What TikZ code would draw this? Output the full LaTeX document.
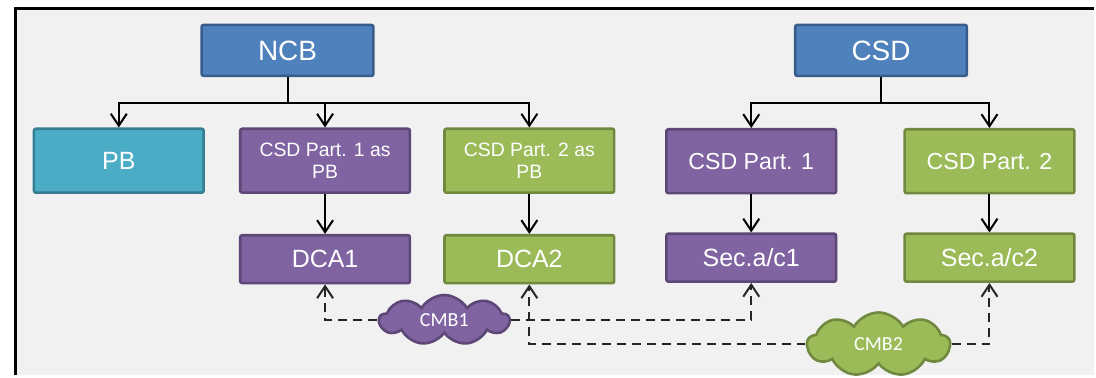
\documentclass[tikz,border=0pt]{standalone}
\usepackage{fontspec}
\setmainfont{Liberation Sans}
\newfontfamily\cloudfont{Carlito}
\usetikzlibrary{shapes.symbols,arrows.meta,calc,positioning}

\definecolor{hdBlue}{HTML}{4F81BD}
\definecolor{hdBlueLn}{HTML}{385D8A}
\definecolor{pbTeal}{HTML}{4BACC6}
\definecolor{pbTealLn}{HTML}{357D91}
\definecolor{partOne}{HTML}{8064A2}
\definecolor{partOneLn}{HTML}{5C4776}
\definecolor{partTwo}{HTML}{9BBB59}
\definecolor{partTwoLn}{HTML}{71893F}
\definecolor{paneGrey}{HTML}{F1F1F1}

\tikzset{
    block/.style = {rectangle, rounded corners=1pt, line width=1.3pt,
        text=white, align=center, inner sep=1pt,
        minimum width=85pt},
    head/.style = {block, fill=hdBlue, draw=hdBlueLn,
        minimum height=25.5pt, minimum width=86pt, font=\fontsize{14}{16}\selectfont},
    mid/.style = {block, minimum height=32pt},
    low/.style = {block, minimum height=24pt, font=\fontsize{12.5}{14}\selectfont},
    one/.style = {fill=partOne, draw=partOneLn},
    two/.style = {fill=partTwo, draw=partTwoLn},
    cmb/.style = {cloud, cloud puffs=9, cloud puff arc=120, aspect=2.6,
        line width=1.3pt, text=white, inner sep=0pt,
        font=\cloudfont\fontsize{10}{12}\selectfont},
    tree/.style = {->, line width=1pt},
    link/.style = {->, line width=1pt, draw=black!85,
        dash pattern=on 4.5pt off 3pt},
}

\begin{document}
\begin{tikzpicture}[x=1pt, y=1pt, >={Straight Barb[length=6pt,width=8pt]}]
	% frame
	\fill [paneGrey] (8.5,-5) rectangle (548,-188);
	\draw [line width=1.8pt] (7.75,-188) -- (7.75,-4.25) -- (548,-4.25);
	\useasboundingbox (0,0) rectangle (548,-188);

	% heads
	\node [head, name=ncb] at (144,-25.25) {NCB};
	\node [head, name=csd] at (441.25,-25.25) {CSD};

	% second row
	\node [mid, fill=pbTeal, draw=pbTealLn, font=\fontsize{12.5}{14}\selectfont, name=pb] at (59.5,-80.5) {PB};
	\node [mid, one, font=\fontsize{9.7}{11.2}\selectfont, right=17pt of pb, name=partOneAsPb] {CSD Part. 1 as\\PB};
	\node [mid, two, font=\fontsize{9.7}{11.2}\selectfont, right=16pt of partOneAsPb, name=partTwoAsPb] {CSD Part. 2 as\\PB};
	\node [mid, one, font=\fontsize{11.6}{14}\selectfont, name=csdPartOne] at (376.25,-80.75) {CSD Part. 1};
	\node [mid, two, font=\fontsize{11.6}{14}\selectfont, right=33pt of csdPartOne, name=csdPartTwo] {CSD Part. 2};

	% third row
	\node [low, one, below=20pt of partOneAsPb, name=dcaOne] {DCA1};
	\node [low, two, below=20pt of partTwoAsPb, name=dcaTwo] {DCA2};
	\node [low, one, below=19pt of csdPartOne, name=secOne] {Sec.a/c1};
	\node [low, two, below=19pt of csdPartTwo, name=secTwo] {Sec.a/c2};

	% clouds
	\node [cmb, one, minimum width=65pt, minimum height=25pt, name=cmbOne] at (222.5,-160.25) {CMB1};
	\node [cmb, two, minimum width=71.5pt, minimum height=32pt, name=cmbTwo] at (440,-172.5) {CMB2};

	% forks
	\coordinate [below=13pt of ncb] (ncbFork);
	\coordinate [below=13pt of csd] (csdFork);

	%%lines
	\draw [tree] (ncb) -- (ncbFork) -| (pb);
	\draw [tree] (ncbFork) -| (partOneAsPb);
	\draw [tree] (ncbFork) -| (partTwoAsPb);
	\draw [tree] (csd) -- (csdFork) -| (csdPartOne);
	\draw [tree] (csdFork) -| (csdPartTwo);
	\draw [tree] (partOneAsPb) -- (dcaOne);
	\draw [tree] (partTwoAsPb) -- (dcaTwo);
	\draw [tree] (csdPartOne) -- (secOne);
	\draw [tree] (csdPartTwo) -- (secTwo);
	\draw [link] (cmbOne.west) -| (dcaOne);
	\draw [link] (cmbOne.east) -| (secOne);
	\draw [link] (cmbTwo.west) -| (dcaTwo);
	\draw [link] (cmbTwo.east) -| (secTwo);
\end{tikzpicture}
\end{document}
